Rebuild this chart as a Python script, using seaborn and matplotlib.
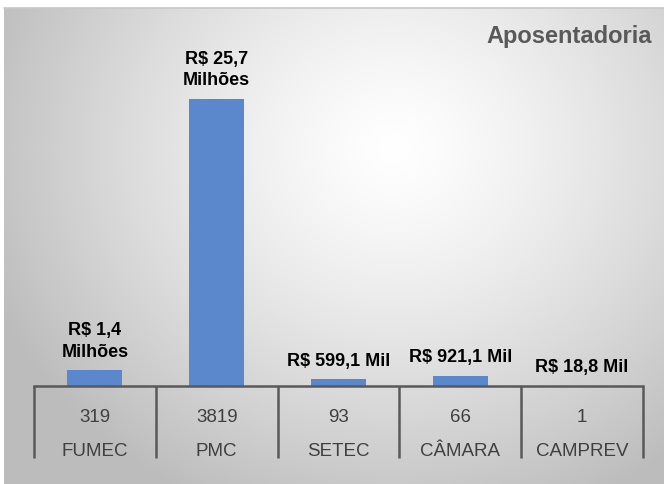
import numpy as np
import pandas as pd
import matplotlib.pyplot as plt
import seaborn as sns

# dados
orgaos = ["FUMEC", "PMC", "SETEC", "CÂMARA", "CAMPREV"]
qtd = [319, 3819, 93, 66, 1]
valores_mi = [1.4, 25.7, 0.5991, 0.9211, 0.0188]   # em milhões de R$
rotulos = ["R$ 1,4\nMilhões", "R$ 25,7\nMilhões", "R$ 599,1 Mil", "R$ 921,1 Mil", "R$ 18,8 Mil"]

df = pd.DataFrame({"orgao": orgaos, "valor": valores_mi})

sns.set_theme(style="white")
plt.rcParams["font.family"] = ["Liberation Sans", "DejaVu Sans"]

W, H = 664, 484
fig = plt.figure(figsize=(W / 100, H / 100), dpi=100)
fig.patch.set_facecolor("white")

# fundo com gradiente radial
bg = fig.add_axes([4 / W, 0, 1 - 4 / W, 476 / H])
yy, xx = np.mgrid[0:476, 0:660]
d = np.sqrt(((xx - 390) / 420.0) ** 2 + ((yy - 140) / 380.0) ** 2)
g = np.clip(1 - 0.25 * d ** 1.3, 0.74, 1)
bg.imshow(np.dstack([g, g, g]), aspect="auto", extent=[0, 1, 0, 1], origin="upper")
bg.set_axis_off()
fig.add_artist(plt.Line2D([4 / W, 1], [476 / H, 476 / H], color="#c8c8c8", lw=1.2))

# área do gráfico
x0, x1 = 34 / W, 643 / W
yb, yt = (H - 386) / H, (H - 20) / H
ax = fig.add_axes([x0, yb, x1 - x0, yt - yb])
ax.patch.set_alpha(0)
sns.barplot(data=df, x="orgao", y="valor", color="#5b87cd", width=0.45, ax=ax,
            saturation=1, linewidth=0)
ax.set_ylim(0, 366 / 11.17)
ax.set_xlim(-0.5, len(orgaos) - 0.5)
for i, (v, lab) in enumerate(zip(valores_mi, rotulos)):
    ax.annotate(lab, (i, v), xytext=(0, 7), textcoords="offset points",
                ha="center", va="bottom", fontsize=13, fontweight="bold",
                color="black", linespacing=1.35)
for s in ["top", "left", "right"]:
    ax.spines[s].set_visible(False)
ax.spines["bottom"].set_color("#595959")
ax.spines["bottom"].set_linewidth(1.8)
ax.set_xticks([])
ax.set_yticks([])
ax.set_xlabel("")
ax.set_ylabel("")

# tabela embaixo
trans = ax.get_xaxis_transform()
h_ax = 366.0
for k in range(len(orgaos) + 1):
    ax.plot([k - 0.5, k - 0.5], [0, -72 / h_ax], transform=trans, color="#595959",
            lw=1.8, clip_on=False, solid_capstyle="butt")
for i, (n, o) in enumerate(zip(qtd, orgaos)):
    ax.text(i, -32 / h_ax, str(n), transform=trans, ha="center", va="center",
            fontsize=13.5, color="#404040")
    ax.text(i, -65 / h_ax, o, transform=trans, ha="center", va="center",
            fontsize=13.5, color="#404040")

fig.text(652 / W, 1 - 37 / H, "Aposentadoria", ha="right", va="center",
         fontsize=17, fontweight="bold", color="#595959")

fig.savefig("out.png", dpi=100)
